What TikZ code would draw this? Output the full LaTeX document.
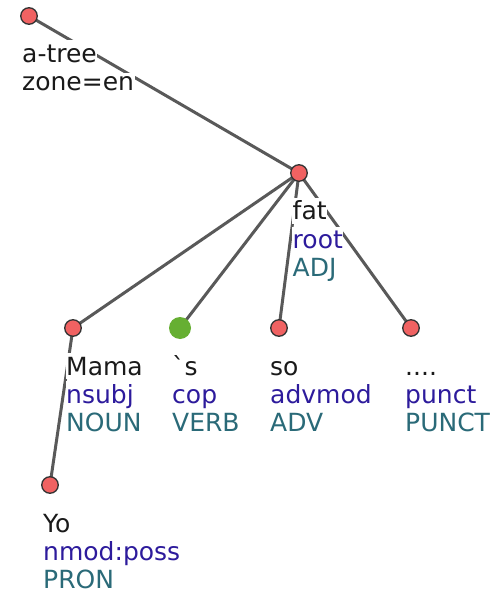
\documentclass[tikz,border=0pt]{standalone}
\usepackage{fontspec}
\setmainfont{DejaVu Sans}
\newfontfamily\plainfont{DejaVu Sans}
\pgfdeclarelayer{bg}
\pgfsetlayers{bg,main}
\definecolor{wordc}{HTML}{1A1A1A}
\definecolor{relc}{HTML}{2D1B9C}
\definecolor{posc}{HTML}{2A6A78}
\definecolor{redc}{HTML}{F06262}
\definecolor{greenc}{HTML}{66AF32}
\definecolor{edgec}{HTML}{595959}
\begin{document}
\begin{tikzpicture}[x=1pt,y=-1pt,
  tok/.style={circle,draw=black!80,line width=1.3pt,fill=redc,minimum size=16.5pt,inner sep=0pt},
  gtok/.style={circle,fill=greenc,minimum size=22pt,inner sep=0pt},
  lbl/.style={anchor=base west,fill=white,inner xsep=0.5pt,inner ysep=3.5pt,font=\fontsize{25}{28}\selectfont},
  wrdl/.style={lbl,text=wordc},
  rell/.style={lbl,text=relc},
  posl/.style={lbl,text=posc},
  conn/.style={draw=edgec,line width=3pt}]
\useasboundingbox (0,0) rectangle (496,593);
% tokens
\node[tok] (top) at (29,16) {};
\node[tok] (fat) at (299,173) {};
\node[tok] (mama) at (73,328) {};
\node[gtok] (s) at (180,328) {};
\node[tok] (so) at (279,328) {};
\node[tok] (dots) at (411,328) {};
\node[tok] (yo) at (50,485) {};
% edges
\begin{pgfonlayer}{bg}
\fill[white] (0,0) rectangle (496,593);
\draw[conn] (top.center) -- (fat.center);
\draw[conn] (fat.center) -- (mama.center);
\draw[conn] (fat.center) -- (s.center);
\draw[conn] (fat.center) -- (so.center);
\draw[conn] (fat.center) -- (dots.center);
\draw[conn] (mama.center) -- (yo.center);
\end{pgfonlayer}
% labels
\node[wrdl,inner ysep=5pt] (topw) at (21.5,63) {a-tree\hspace{10pt}};
\node[wrdl] (topz) at (21.5,91) {zone=en\hspace{12pt}};
\node[wrdl] (fatw) at (292,220) {fat\hspace{6pt}};
\node[rell] (fatr) at (292,248) {root\hspace{6pt}};
\node[posl] (fatp) at (292,276) {ADJ\hspace{4pt}};
\node[wrdl] (mamaw) at (65.5,375) {Mama\hspace{6pt}};
\node[rell] (mamar) at (65.5,403) {nsubj\hspace{6pt}};
\node[posl] (mamap) at (65.5,431) {NOUN\hspace{4pt}};
\node[wrdl] (sw) at (171.5,375) {{\plainfont\char96}s\hspace{6pt}};
\node[rell] (sr) at (171.5,403) {cop\hspace{6pt}};
\node[posl] (sp) at (171.5,431) {VERB\hspace{4pt}};
\node[wrdl] (sow) at (269.5,375) {so\hspace{6pt}};
\node[rell] (sor) at (269.5,403) {advmod\hspace{6pt}};
\node[posl] (sop) at (269.5,431) {ADV\hspace{4pt}};
\node[wrdl] (dotsw) at (404.5,375) {....\hspace{6pt}};
\node[rell] (dotsr) at (404.5,403) {punct\hspace{6pt}};
\node[posl] (dotsp) at (404.5,431) {PUNCT};
\node[wrdl] (yow) at (42.5,532) {Yo\hspace{6pt}};
\node[rell] (yor) at (42.5,560) {nmod:poss\hspace{6pt}};
\node[posl] (yop) at (42.5,588) {PRON\hspace{4pt}};
\end{tikzpicture}
\end{document}
